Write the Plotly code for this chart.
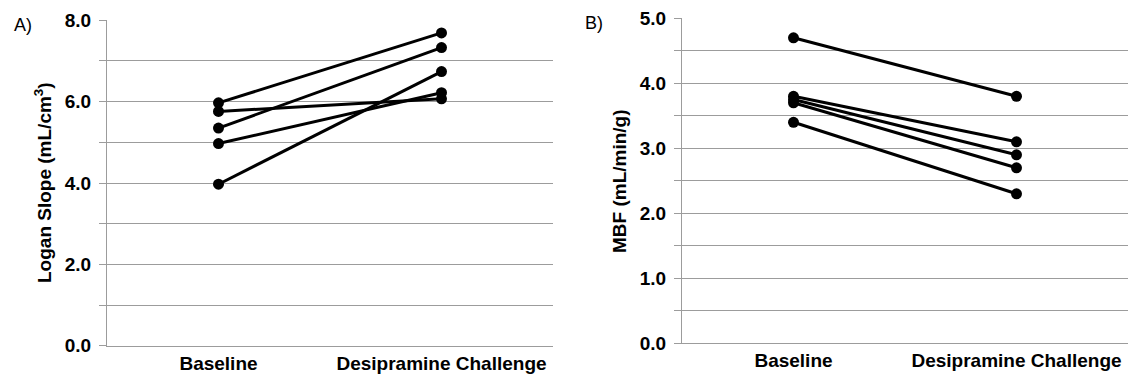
import plotly.graph_objects as go

categories = ["Baseline", "Desipramine Challenge"]

# Panel A: Logan slope (mL/cm^3), one pair per subject
logan_baseline = [5.97, 5.76, 5.35, 4.97, 3.97]
logan_desipramine = [7.69, 6.07, 7.33, 6.22, 6.74]

# Panel B: MBF (mL/min/g), one pair per subject
mbf_baseline = [4.70, 3.80, 3.75, 3.70, 3.40]
mbf_desipramine = [3.80, 3.10, 2.90, 2.70, 2.30]

logan_range = [0, 8]
logan_label_step, logan_grid_step = 2, 1
mbf_range = [0, 5]
mbf_label_step, mbf_grid_step = 1, 0.5

W, H = 1131, 377
FONT = "Liberation Sans, Arial, sans-serif"
GRID = "#9c9c9c"

fig = go.Figure()

for b, d in zip(logan_baseline, logan_desipramine):
    fig.add_trace(go.Scatter(x=categories, y=[b, d], mode="lines+markers",
                             line=dict(color="black", width=3),
                             marker=dict(color="black", size=11),
                             xaxis="x", yaxis="y", showlegend=False, cliponaxis=False))
for b, d in zip(mbf_baseline, mbf_desipramine):
    fig.add_trace(go.Scatter(x=categories, y=[b, d], mode="lines+markers",
                             line=dict(color="black", width=3),
                             marker=dict(color="black", size=11),
                             xaxis="x2", yaxis="y2", showlegend=False, cliponaxis=False))

def px_x(p):
    return p / W

def px_y(p):
    return 1 - p / H

xcommon = dict(type="category", range=[-0.5, 1.5], showgrid=False, zeroline=False,
               showline=True, linecolor=GRID, linewidth=1.3, ticks="", automargin=False,
               tickfont=dict(family=FONT, size=19, color="black", weight="bold"))
ycommon = dict(showgrid=True, gridcolor=GRID, gridwidth=1.3, zeroline=False,
               showline=True, linecolor=GRID, linewidth=1.3, ticks="outside",
               ticklen=7, tickcolor=GRID, tickwidth=1.3, automargin=False,
               tickformat=".1f", tick0=0, ticklabelstandoff=4,
               tickfont=dict(family=FONT, size=19, color="black", weight="bold"))

def minor(step):
    return dict(dtick=step, tick0=0, showgrid=True, gridcolor=GRID, gridwidth=1.3,
                ticks="outside", ticklen=7, tickcolor=GRID, tickwidth=1.3)

TITLE_FONT = dict(family=FONT, size=19, color="black", weight="bold")

fig.update_layout(
    width=W, height=H,
    margin=dict(l=0, r=0, t=0, b=0, autoexpand=False),
    paper_bgcolor="white", plot_bgcolor="white",
    xaxis=dict(domain=[px_x(107), px_x(553)], anchor="y", **xcommon),
    yaxis=dict(domain=[px_y(345.7), px_y(20.3)], range=logan_range, anchor="x",
               dtick=logan_label_step, minor=minor(logan_grid_step), **ycommon),
    xaxis2=dict(domain=[px_x(682), px_x(1128)], anchor="y2", **xcommon),
    yaxis2=dict(domain=[px_y(343.3), px_y(18.3)], range=mbf_range, anchor="x2",
                dtick=mbf_label_step, minor=minor(mbf_grid_step), **ycommon),
    annotations=[
        dict(text="Logan Slope (mL/cm<sup>3</sup>)", textangle=-90, x=px_x(43), y=px_y(183),
             xref="paper", yref="paper", showarrow=False, xanchor="center", yanchor="middle",
             font=TITLE_FONT),
        dict(text="MBF (mL/min/g)", textangle=-90, x=px_x(620), y=px_y(181),
             xref="paper", yref="paper", showarrow=False, xanchor="center", yanchor="middle",
             font=TITLE_FONT),
        dict(text="A)", x=px_x(12), y=px_y(25), xref="paper", yref="paper", showarrow=False,
             xanchor="left", yanchor="middle", font=dict(family=FONT, size=18, color="black")),
        dict(text="B)", x=px_x(583), y=px_y(23), xref="paper", yref="paper", showarrow=False,
             xanchor="left", yanchor="middle", font=dict(family=FONT, size=18, color="black")),
    ],
)

fig.write_html("out.html", config={"responsive": False})
